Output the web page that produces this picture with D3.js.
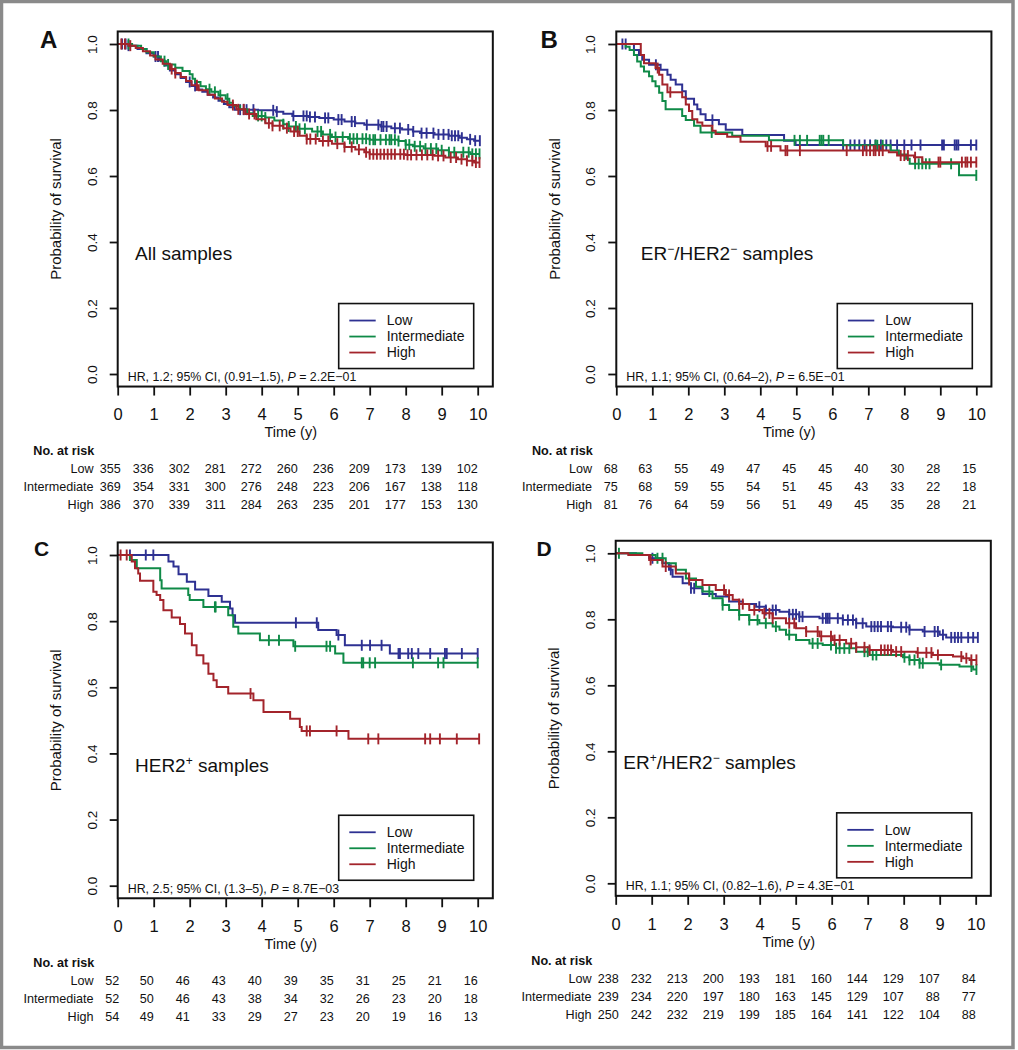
<!DOCTYPE html>
<html><head><meta charset="utf-8">
<script src="https://cdn.jsdelivr.net/npm/d3@7"></script>
<style>
body{margin:0;background:#fff}
svg{display:block}
text{font-family:"Liberation Sans",Arial,Helvetica,sans-serif;fill:#111}
</style>
</head><body>
<svg id="chart" width="1018" height="1050"></svg>
<script>
// ---------------- DATA ----------------
const groups = ["Low", "Intermediate", "High"];
const timeTicks = [0,1,2,3,4,5,6,7,8,9,10];
const survTicks = [0, 0.2, 0.4, 0.6, 0.8, 1.0];
const panelLetters = ["A", "B", "C", "D"];
const timeLabel = "Time (y)";
const yLabel = "Probability of survival";
const riskTitle = "No. at risk";

// Kaplan-Meier steps: [time, survival after drop]; censor times
const lowA = [[0.3,0.995],[0.55,0.985],[0.8,0.972],[1.0,0.962],[1.15,0.95],[1.3,0.935],[1.45,0.92],[1.6,0.908],[1.75,0.897],[1.9,0.885],[2.05,0.873],[2.2,0.862],[2.35,0.855],[2.5,0.846],[2.65,0.838],[2.8,0.828],[2.95,0.818],[3.1,0.808],[3.25,0.801],[3.9,0.799],[4.4,0.795],[4.6,0.789],[4.85,0.782],[5.3,0.779],[5.6,0.776],[6.0,0.771],[6.3,0.765],[6.6,0.76],[6.85,0.755],[7.3,0.75],[7.6,0.745],[7.9,0.741],[8.2,0.735],[8.4,0.73],[8.8,0.726],[9.2,0.722],[9.5,0.716],[9.7,0.711],[9.9,0.707]];
const lowAcens = [0.12,0.22,0.3,1.05,1.12,2.0,2.15,3.4,3.5,3.58,3.77,4.32,4.42,4.88,5.16,5.25,5.34,5.48,5.76,5.85,6.13,6.22,6.5,6.59,6.92,7.24,7.33,7.38,7.47,7.7,7.84,8.07,8.21,8.44,8.58,8.77,8.91,9.05,9.19,9.28,9.37,9.46,9.56,9.79,9.93,10.06];
const intA = [[0.4,0.995],[0.65,0.985],[0.8,0.975],[1.0,0.962],[1.2,0.948],[1.35,0.938],[1.6,0.928],[1.8,0.918],[2.0,0.908],[2.08,0.895],[2.15,0.885],[2.3,0.872],[2.45,0.863],[2.6,0.855],[2.8,0.845],[3.0,0.834],[3.1,0.822],[3.2,0.812],[3.4,0.802],[3.6,0.79],[3.75,0.782],[4.1,0.777],[4.35,0.768],[4.6,0.757],[4.75,0.75],[5.0,0.743],[5.4,0.735],[5.7,0.726],[5.95,0.718],[6.4,0.713],[7.0,0.71],[7.8,0.706],[8.0,0.695],[8.2,0.69],[8.5,0.683],[8.9,0.678],[9.2,0.672],[9.8,0.667]];
const intAcens = [0.3,1.3,1.4,2.55,2.7,2.85,3.05,3.9,4.0,4.1,4.6,4.75,4.95,5.05,5.2,5.55,5.65,5.9,6.05,6.25,6.45,6.55,6.65,6.8,6.9,7.0,7.1,7.15,7.3,7.45,7.55,7.6,7.7,7.8,8.0,8.1,8.25,8.4,8.55,8.7,8.85,9.0,9.2,9.35,9.6,9.75,9.85,9.95,10.05];
const highA = [[0.3,0.995],[0.5,0.988],[0.7,0.978],[0.9,0.965],[1.05,0.953],[1.25,0.94],[1.45,0.924],[1.6,0.912],[1.75,0.9],[1.9,0.888],[2.05,0.875],[2.25,0.86],[2.5,0.846],[2.7,0.835],[2.9,0.825],[3.05,0.815],[3.3,0.802],[3.55,0.788],[3.85,0.772],[4.1,0.76],[4.3,0.752],[4.6,0.745],[4.8,0.735],[5.05,0.722],[5.25,0.712],[5.6,0.706],[5.95,0.698],[6.3,0.688],[6.6,0.68],[6.85,0.672],[7.0,0.666],[8.0,0.664],[8.8,0.661],[9.1,0.656],[9.45,0.651],[9.7,0.646],[9.9,0.641]];
const highAcens = [0.1,0.2,0.35,1.5,1.6,2.2,3.2,3.35,3.5,3.65,3.8,4.2,4.3,4.5,4.7,4.9,5.0,5.25,5.35,5.5,5.7,5.85,6.1,6.3,6.5,6.7,6.9,7.0,7.1,7.2,7.3,7.4,7.5,7.6,7.7,7.85,7.95,8.05,8.15,8.3,8.45,8.6,8.75,8.9,9.05,9.25,9.4,9.55,9.7,9.85,9.95,10.05];

const lowB = [[0.49,0.982],[0.63,0.967],[0.72,0.952],[0.91,0.937],[1.23,0.922],[1.42,0.907],[1.51,0.892],[1.65,0.877],[1.83,0.857],[1.93,0.834],[2.16,0.817],[2.25,0.802],[2.34,0.787],[2.48,0.77],[2.85,0.757],[3.04,0.74],[3.5,0.724],[4.66,0.707],[4.98,0.694]];
const lowBcens = [0.17,0.26,1.1,2.67,6.3,6.5,6.62,6.75,6.9,7.05,7.2,7.35,7.5,7.62,7.8,8.0,8.2,8.45,9.05,9.1,9.4,9.45,9.5,9.85,10.0];
const intB = [[0.26,0.992],[0.37,0.982],[0.49,0.967],[0.58,0.947],[0.68,0.932],[0.77,0.917],[0.91,0.902],[1.0,0.887],[1.09,0.872],[1.19,0.852],[1.28,0.827],[1.37,0.802],[1.83,0.782],[1.93,0.77],[2.16,0.752],[2.34,0.732],[3.22,0.722],[4.24,0.708],[6.3,0.693],[7.62,0.677],[7.85,0.665],[8.05,0.652],[8.15,0.637],[9.52,0.602]];
const intBcens = [2.65,4.95,5.1,5.3,5.65,5.7,5.75,5.9,7.2,7.25,7.4,8.3,8.4,8.5,8.6,8.7,9.3,10.0];
const highB = [[0.68,0.967],[0.77,0.942],[1.09,0.927],[1.19,0.907],[1.28,0.877],[1.42,0.854],[1.83,0.839],[1.93,0.817],[2.02,0.797],[2.11,0.772],[2.25,0.762],[2.39,0.752],[2.67,0.737],[2.76,0.727],[3.08,0.719],[3.45,0.704],[4.15,0.69],[4.56,0.677],[7.57,0.672],[7.8,0.662],[8.27,0.657],[8.5,0.642]];
const highBcens = [1.15,1.5,4.2,4.3,4.7,4.75,5.1,6.4,6.85,6.95,7.05,7.15,7.2,7.3,7.4,7.9,8.0,8.1,8.3,8.95,9.0,9.6,9.7,9.75,9.85,10.0];

const lowC = [[1.41,0.98],[1.55,0.965],[1.69,0.942],[1.92,0.919],[2.15,0.896],[2.52,0.876],[2.89,0.859],[3.12,0.838],[3.19,0.818],[3.26,0.795],[5.57,0.773],[6.08,0.758],[6.31,0.727],[7.56,0.702]];
const lowCcens = [0.34,0.78,0.99,4.95,5.53,6.13,6.78,7.01,7.33,7.8,7.84,8.07,8.17,8.35,8.68,9.09,9.14,9.56,10.0];
const intC = [[0.34,0.985],[0.53,0.96],[1.18,0.924],[1.22,0.899],[1.96,0.879],[2.0,0.864],[2.38,0.843],[3.07,0.818],[3.21,0.783],[3.35,0.763],[3.95,0.742],[4.88,0.724],[6.04,0.702],[6.27,0.674]];
const intCcens = [2.7,2.72,4.2,4.48,4.93,5.8,5.9,6.78,6.82,7.0,7.15,8.2,8.9,9.05,10.0];
const highC = [[0.39,0.98],[0.48,0.96],[0.57,0.944],[0.62,0.922],[0.99,0.889],[1.08,0.879],[1.18,0.864],[1.27,0.833],[1.5,0.811],[1.73,0.791],[1.87,0.763],[2.06,0.727],[2.19,0.697],[2.38,0.672],[2.52,0.641],[2.66,0.621],[2.75,0.601],[3.07,0.581],[3.77,0.561],[4.05,0.525],[4.79,0.505],[5.06,0.48],[5.11,0.468],[6.41,0.444]];
const highCcens = [0.08,0.25,3.69,5.25,5.34,6.08,6.96,7.24,8.54,8.68,8.95,9.42,10.04];

const lowD = [[0.56,0.995],[0.93,0.985],[1.3,0.97],[1.48,0.95],[1.58,0.929],[1.86,0.909],[2.09,0.894],[2.41,0.877],[2.78,0.869],[3.15,0.854],[3.53,0.846],[3.9,0.838],[4.17,0.828],[4.55,0.823],[4.82,0.815],[5.1,0.808],[5.66,0.803],[6.31,0.798],[6.68,0.788],[6.96,0.778],[7.7,0.776],[8.16,0.768],[8.53,0.763],[9.0,0.753],[9.18,0.745]];
const lowDcens = [1.02,1.53,2.09,2.18,3.99,4.17,4.36,4.45,4.82,4.92,5.01,5.1,5.19,5.75,5.84,5.89,5.94,6.17,6.31,6.45,6.59,6.68,6.86,7.1,7.19,7.28,7.37,7.56,7.65,7.93,8.07,8.16,8.58,8.86,8.95,9.09,9.32,9.42,9.51,9.6,9.79,9.93,10.06];
const intD = [[0.74,0.995],[1.11,0.985],[1.39,0.97],[1.67,0.95],[1.95,0.924],[2.23,0.899],[2.41,0.884],[2.69,0.864],[2.97,0.843],[3.15,0.828],[3.43,0.813],[3.71,0.798],[3.99,0.788],[4.36,0.778],[4.55,0.768],[4.73,0.753],[5.01,0.737],[5.38,0.727],[5.75,0.722],[6.12,0.712],[6.68,0.702],[7.05,0.692],[7.98,0.685],[8.16,0.677],[8.44,0.667],[9.0,0.662],[9.55,0.657],[9.93,0.648]];
const intDcens = [0.09,1.16,1.3,2.04,2.6,2.97,3.43,3.71,3.94,4.17,4.45,4.82,5.47,5.61,5.98,6.12,6.22,6.35,6.49,6.91,7.0,7.14,7.24,8.02,8.16,8.3,8.44,8.53,9.04,9.88,10.02];
const highD = [[0.35,0.995],[0.93,0.98],[1.3,0.96],[1.67,0.939],[2.04,0.919],[2.41,0.904],[2.78,0.889],[3.06,0.874],[3.25,0.859],[3.43,0.846],[3.71,0.828],[4.08,0.818],[4.36,0.803],[4.73,0.788],[5.01,0.773],[5.29,0.763],[5.66,0.749],[6.03,0.737],[6.4,0.727],[6.68,0.715],[7.05,0.707],[7.7,0.702],[8.35,0.699],[8.81,0.692],[9.37,0.687],[9.65,0.682],[9.83,0.677]];
const highDcens = [0.97,1.39,2.04,3.01,3.15,3.43,3.53,3.85,4.13,4.27,4.36,4.82,4.96,5.29,5.61,5.71,5.98,6.08,6.22,6.54,6.68,6.91,7.05,7.37,7.47,7.56,7.65,7.79,7.93,8.39,8.63,8.77,8.95,9.6,9.74,9.88,10.02];

// Numbers at risk
const riskLowA = [355,336,302,281,272,260,236,209,173,139,102];
const riskIntA = [369,354,331,300,276,248,223,206,167,138,118];
const riskHighA = [386,370,339,311,284,263,235,201,177,153,130];
const riskLowB = [68,63,55,49,47,45,45,40,30,28,15];
const riskIntB = [75,68,59,55,54,51,45,43,33,22,18];
const riskHighB = [81,76,64,59,56,51,49,45,35,28,21];
const riskLowC = [52,50,46,43,40,39,35,31,25,21,16];
const riskIntC = [52,50,46,43,38,34,32,26,23,20,18];
const riskHighC = [54,49,41,33,29,27,23,20,19,16,13];
const riskLowD = [238,232,213,200,193,181,160,144,129,107,84];
const riskIntD = [239,234,220,197,180,163,145,129,107,88,77];
const riskHighD = [250,242,232,219,199,185,164,141,122,104,88];

// Statistics text: [before P, after P]
const hrTexts = [
  ["HR, 1.2; 95% CI, (0.91\u20131.5), ", " = 2.2E\u221201"],
  ["HR, 1.1; 95% CI, (0.64\u20132), ", " = 6.5E\u221201"],
  ["HR, 2.5; 95% CI, (1.3\u20135), ", " = 8.7E\u221203"],
  ["HR, 1.1; 95% CI, (0.82\u20131.6), ", " = 4.3E\u221201"]
];
// Subtitles as [text, superscript] pieces
const subtitles = [
  [["All samples", ""]],
  [["ER", "\u2212"], ["/HER2", "\u2212"], [" samples", ""]],
  [["HER2", "+"], [" samples", ""]],
  [["ER", "+"], ["/HER2", "\u2212"], [" samples", ""]]
];

// ---------------- STYLE / LAYOUT ----------------
const colors = ["#2e3192", "#0f8a47", "#a3242b"];
const layout = [
  {x0: 117.7, yTop: 44,    yBot: 374,   sub: 17.3, lbl: [40, 47.5], lblSize: 24},
  {x0: 616.3, yTop: 44,    yBot: 374,   sub: 24.5, lbl: [540.5, 48], lblSize: 24},
  {x0: 117.7, yTop: 555,   yBot: 885.7, sub: 17.3, lbl: [34, 556], lblSize: 21},
  {x0: 615.7, yTop: 553.3, yBot: 883.3, sub: 7.6,  lbl: [536.5, 556], lblSize: 21}
];
const panelData = [
  {curves: [[lowA, lowAcens], [intA, intAcens], [highA, highAcens]], risk: [riskLowA, riskIntA, riskHighA]},
  {curves: [[lowB, lowBcens], [intB, intBcens], [highB, highBcens]], risk: [riskLowB, riskIntB, riskHighB]},
  {curves: [[lowC, lowCcens], [intC, intCcens], [highC, highCcens]], risk: [riskLowC, riskIntC, riskHighC]},
  {curves: [[lowD, lowDcens], [intD, intDcens], [highD, highDcens]], risk: [riskLowD, riskIntD, riskHighD]}
];

const svg = d3.select("#chart");
svg.append("rect").attr("x", 1.5).attr("y", 1.5).attr("width", 1011.5).attr("height", 1046)
  .attr("fill", "#fff").attr("stroke", "#8a8a8a").attr("stroke-width", 3.5);

function survAt(steps, t) {
  let s = 1;
  for (const [tt, ss] of steps) { if (tt <= t) s = ss; else break; }
  return s;
}

panelData.forEach((pd, pi) => {
  const L = layout[pi];
  const x = d3.scaleLinear().domain([0, 10]).range([L.x0, L.x0 + 360]);
  const y = d3.scaleLinear().domain([0, 1]).range([L.yBot, L.yTop]);
  const g = svg.append("g");
  const bb = y(-0.038);

  // curves
  pd.curves.forEach(([steps, cens], gi) => {
    const tEnd = Math.max(d3.max(cens), steps[steps.length - 1][0]);
    let d = `M${x(0)},${y(1)}`;
    steps.forEach(([t, s]) => { d += `H${x(t)}V${y(s)}`; });
    d += `H${x(tEnd)}`;
    g.append("path").attr("d", d).attr("fill", "none").attr("stroke", colors[gi])
      .attr("stroke-width", 2);
    g.selectAll(null).data(cens).enter().append("line")
      .attr("x1", t => x(t)).attr("x2", t => x(t))
      .attr("y1", t => y(survAt(steps, t)) - 5.5).attr("y2", t => y(survAt(steps, t)) + 5.5)
      .attr("stroke", colors[gi]).attr("stroke-width", 1.9);
  });

  // box
  g.append("rect").attr("x", x(0)).attr("y", y(1.038))
    .attr("width", x(10.42) - x(0)).attr("height", y(-0.038) - y(1.038))
    .attr("fill", "none").attr("stroke", "#111").attr("stroke-width", 2);

  // x axis
  const xa = g.append("g").attr("transform", `translate(0,${bb})`)
    .call(d3.axisBottom(x).tickValues(timeTicks).tickSize(9).tickFormat(d3.format("d")));
  xa.select(".domain").remove();
  xa.selectAll(".tick line").attr("stroke", "#111").attr("stroke-width", 1.8);
  xa.selectAll(".tick text").attr("y", 28).attr("dy", "0.35em")
    .style("font-size", "16.5px").style("font-family", '"Liberation Sans",Arial,sans-serif').attr("fill", "#111");

  // y axis
  const ya = g.append("g").attr("transform", `translate(${x(0)},0)`)
    .call(d3.axisLeft(y).tickValues(survTicks).tickSize(8).tickFormat(d3.format(".1f")));
  ya.select(".domain").remove();
  ya.selectAll(".tick line").attr("stroke", "#111").attr("stroke-width", 1.8);
  ya.selectAll(".tick text").attr("x", null).attr("dy", null)
    .attr("transform", "translate(-21,0) rotate(-90)").attr("text-anchor", "middle")
    .style("font-size", "13.5px").style("font-family", '"Liberation Sans",Arial,sans-serif').attr("fill", "#111");

  // y label
  g.append("text").attr("transform", `translate(${x(0) - 56.5},${(y(0) + y(1)) / 2}) rotate(-90)`)
    .attr("text-anchor", "middle").style("font-size", "15px").text(yLabel);

  // x label
  g.append("text").attr("x", x(5) - 7).attr("y", bb + 45.7).attr("dy", "0.35em")
    .attr("text-anchor", "middle").style("font-size", "14.5px").text(timeLabel);

  // panel letter
  g.append("text").attr("x", L.lbl[0]).attr("y", L.lbl[1])
    .style("font-size", L.lblSize + "px").style("font-weight", "bold").text(panelLetters[pi]);

  // subtitle
  const st = g.append("text").attr("x", x(0) + L.sub).attr("y", y(0.345)).style("font-size", "19px");
  let raised = false;
  subtitles[pi].forEach(([txt, sup]) => {
    st.append("tspan").attr("dy", raised ? 7 : 0).text(txt);
    raised = false;
    if (sup) {
      st.append("tspan").attr("dy", -7).style("font-size", "12px").text(sup);
      raised = true;
    }
  });

  // HR text
  const hr = g.append("text").attr("x", x(0) + 10).attr("y", bb - 10).attr("dy", "0.35em")
    .style("font-size", "12.4px");
  hr.append("tspan").text(hrTexts[pi][0]);
  hr.append("tspan").style("font-style", "italic").text("P");
  hr.append("tspan").text(hrTexts[pi][1]);

  // legend
  const lg = g.append("g");
  lg.append("rect").attr("x", x(0) + 221).attr("y", bb - 83).attr("width", 135).attr("height", 65)
    .attr("fill", "#fff").attr("stroke", "#111").attr("stroke-width", 1.6);
  groups.forEach((gn, gi) => {
    const ly = bb - 66 + gi * 16;
    lg.append("line").attr("x1", x(0) + 231.6).attr("x2", x(0) + 258).attr("y1", ly).attr("y2", ly)
      .attr("stroke", colors[gi]).attr("stroke-width", 1.8);
    lg.append("text").attr("x", x(0) + 269).attr("y", ly).attr("dy", "0.35em")
      .style("font-size", "14px").text(gn);
  });

  // risk table
  g.append("text").attr("x", x(0) - 84.4).attr("y", bb + 64.3).attr("dy", "0.35em")
    .style("font-size", "12.6px").style("font-weight", "bold").text(riskTitle);
  groups.forEach((gn, gi) => {
    const ry = bb + 82.5 + gi * 17.9;
    g.append("text").attr("x", x(0) - 24.2).attr("y", ry).attr("dy", "0.35em")
      .attr("text-anchor", "end").style("font-size", "12.6px").text(gn);
    g.selectAll(null).data(pd.risk[gi]).enter().append("text")
      .attr("x", (v, i) => x(timeTicks[i]) + (i === 0 ? 1.5 * (String(v).length - 1) : 0))
      .attr("y", ry).attr("dy", "0.35em").attr("text-anchor", "end")
      .style("font-size", "12.6px").text(v => v);
  });
});
</script>
</body></html>
